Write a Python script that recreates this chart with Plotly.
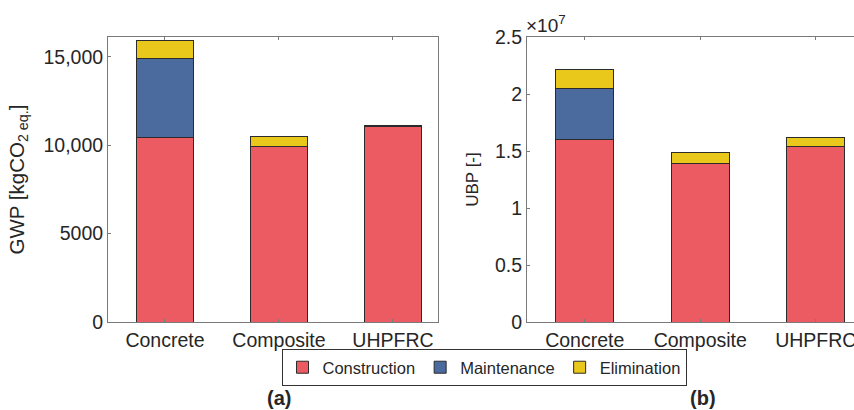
import plotly.graph_objects as go

categories = ["Concrete", "Composite", "UHPFRC"]
phases = ["Construction", "Maintenance", "Elimination"]

gwp_construction = [10470, 9920, 11050]
gwp_maintenance = [4420, 0, 0]
gwp_elimination = [1020, 570, 90]

ubp_construction = [1.603e7, 1.392e7, 1.538e7]
ubp_maintenance = [0.441e7, 0, 0]
ubp_elimination = [0.173e7, 0.097e7, 0.079e7]

gwp_ticks = [0, 5000, 10000, 15000]
gwp_ticktext = ["0", "5000", "10,000", "15,000"]
ubp_ticks = [0, 0.5e7, 1e7, 1.5e7, 2e7, 2.5e7]
ubp_ticktext = ["0", "0.5", "1", "1.5", "2", "2.5"]

colors = ["#EC5A62", "#4B6B9F", "#E9C71B"]
FONT = "Liberation Sans, Arial, Helvetica, sans-serif"
TXT = "#262626"
W, H = 854, 410

fig = go.Figure()
gwp = [gwp_construction, gwp_maintenance, gwp_elimination]
ubp = [ubp_construction, ubp_maintenance, ubp_elimination]
for i, name in enumerate(phases):
    fig.add_trace(go.Bar(x=categories, y=gwp[i], name=name, width=0.5,
                         marker=dict(color=colors[i], line=dict(color="#2b2b2b", width=1)),
                         xaxis="x", yaxis="y", legendgroup=name, showlegend=True))
for i, name in enumerate(phases):
    fig.add_trace(go.Bar(x=categories, y=ubp[i], name=name, width=0.5,
                         marker=dict(color=colors[i], line=dict(color="#2b2b2b", width=1)),
                         xaxis="x2", yaxis="y2", legendgroup=name, showlegend=False))

ybot = (H - 322) / H
ytop = (H - 37) / H
axcommon = dict(showline=True, linecolor="#7a7a7a", linewidth=1, ticks="inside",
                ticklen=3, tickcolor="#7a7a7a", showgrid=False, zeroline=False,
                automargin=False,
                tickfont=dict(family=FONT, size=19.5, color=TXT))

fig.update_layout(
    template="none",
    width=W, height=H, margin=dict(l=0, r=0, t=0, b=0, pad=0),
    paper_bgcolor="white", plot_bgcolor="white", barmode="stack",
    font=dict(family=FONT, size=18, color=TXT),
    xaxis=dict(domain=[108 / W, 438 / W], range=[-0.5, 2.395], mirror="ticks",
               type="category", anchor="y", ticklabelstandoff=1, **axcommon),
    yaxis=dict(domain=[ybot, ytop], range=[0, 16130], tickvals=gwp_ticks,
               ticktext=gwp_ticktext, mirror=True, anchor="x",
               title=dict(text="GWP [kgCO<sub>2 eq.</sub>]", standoff=13,
                          font=dict(family=FONT, size=20.5, color=TXT)), **axcommon),
    xaxis2=dict(domain=[527 / W, 1.0], range=[-0.5, 2.331], mirror="ticks",
                type="category", anchor="y2", ticklabelstandoff=1, **axcommon),
    yaxis2=dict(domain=[ybot, ytop], range=[0, 2.5e7], tickvals=ubp_ticks,
                ticktext=ubp_ticktext, mirror=False, anchor="x2",
                title=dict(text="UBP [-]", standoff=12,
                           font=dict(family=FONT, size=17, color=TXT)), **axcommon),
    legend=dict(orientation="h", x=484 / W, xanchor="center", y=(H - 349) / H,
                yanchor="top", bgcolor="white", bordercolor="#333333", borderwidth=1,
                font=dict(family=FONT, size=16.5, color=TXT), traceorder="normal",
                itemwidth=30, tracegroupgap=0),
    annotations=[
        dict(text="×10<sup>7</sup>", x=524 / W, y=(H - 38) / H, xref="paper", yref="paper",
             xanchor="left", yanchor="bottom", showarrow=False,
             font=dict(family=FONT, size=19, color=TXT)),
        dict(text="<b>(a)</b>", x=279 / W, y=(H - 398) / H, xref="paper", yref="paper",
             xanchor="center", yanchor="middle", showarrow=False,
             font=dict(family=FONT, size=20, color=TXT)),
        dict(text="<b>(b)</b>", x=703 / W, y=(H - 398) / H, xref="paper", yref="paper",
             xanchor="center", yanchor="middle", showarrow=False,
             font=dict(family=FONT, size=20, color=TXT)),
    ],
)

fig.write_html("out.html", config={"displayModeBar": False},
               post_script="document.body.style.margin='0';document.body.style.overflow='hidden';")
